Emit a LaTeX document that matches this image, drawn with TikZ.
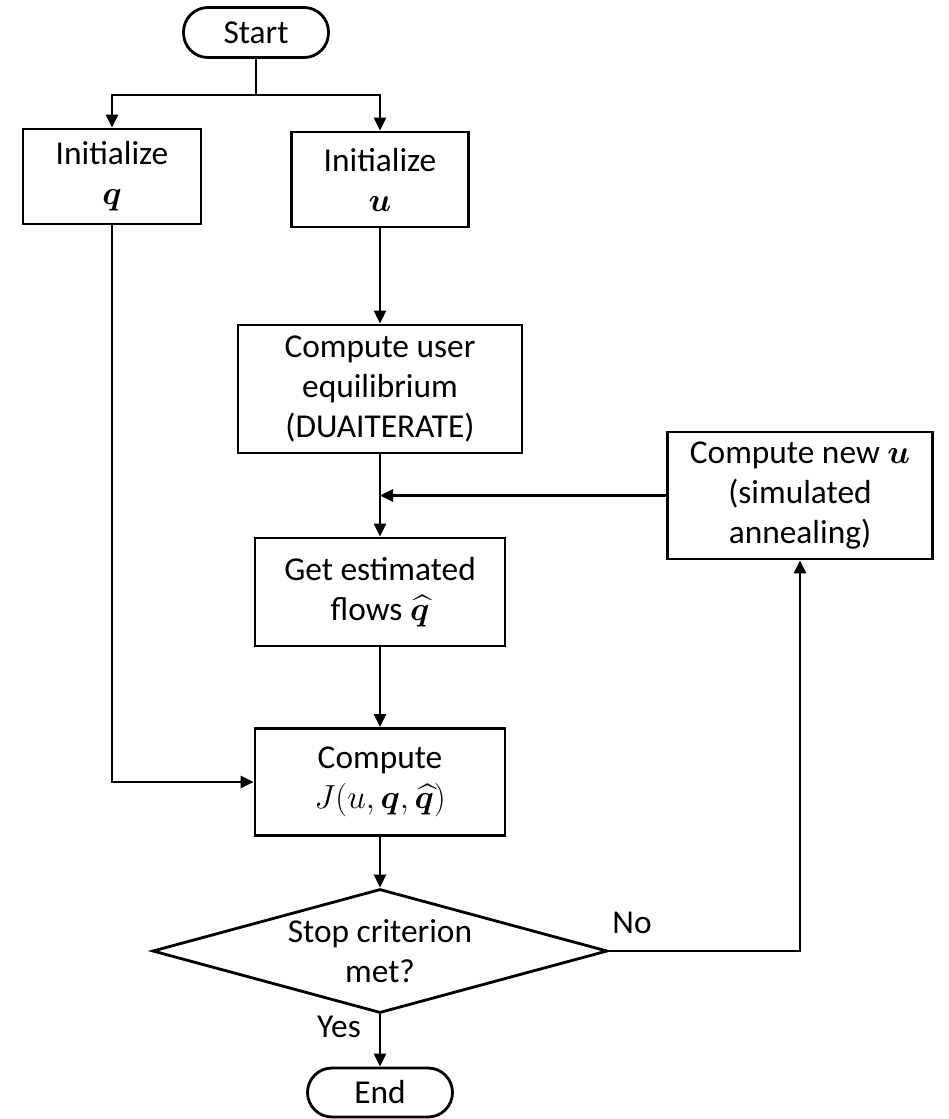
\documentclass[tikz,border=0pt]{standalone}
\usepackage{fix-cm}
\usepackage{amsmath,amssymb,bm}
\usepackage{fontspec}
\setmainfont{Carlito}
\usetikzlibrary{arrows.meta,shapes.geometric,positioning}

\tikzset{
  every node/.style={font=\fontsize{19}{22.7}\selectfont},
  box/.style={draw,line width=1.6pt,align=center,inner sep=0pt},
  term/.style={draw,line width=1.6pt,rounded corners=0.49cm,minimum width=2.9cm,minimum height=1cm,inner sep=0pt},
  decide/.style={draw,diamond,line width=1.6pt,inner sep=0pt,minimum width=9.1cm,minimum height=2.48cm},
  flow/.style={line width=1.6pt,-{Triangle[length=0.26cm,width=0.24cm]}},
  link/.style={line width=1.6pt},
}

\begin{document}
\begin{tikzpicture}
        \useasboundingbox (0,0) rectangle (18.96,-22.38);

        % nodes
        \node[term] (start) at (5.12,-0.65) {Start};
        \node[box,minimum width=3.56cm,minimum height=1.9cm] (initq) at (2.24,-3.53) {Initialize\\$\bm{q}$};
        \node[box,minimum width=3.54cm,minimum height=1.9cm] (initu) at (7.6,-3.59) {Initialize\\$\bm{u}$};
        \node[box,minimum width=5.68cm,minimum height=2.56cm] (equil) at (7.6,-7.78) {Compute user\\equilibrium\\(DUAITERATE)};
        \node[box,minimum width=5.0cm,minimum height=2.16cm] (est) at (7.6,-11.84) {Get estimated\\flows $\widehat{\bm{q}}$};
        \node[box,minimum width=5.0cm,minimum height=2.14cm] (cost) at (7.6,-15.64) {Compute\\$J(u,\bm{q},\widehat{\bm{q}})$};
        \node[decide,label={[align=center]center:Stop criterion\\met?}] (stop) at (7.6,-19.02) {};
        \node[term,minimum height=0.98cm] (end) at (7.6,-21.85) {End};
        \node[box,minimum width=5.3cm,minimum height=2.54cm] (newu) at (16.0,-9.91) {Compute new $\bm{u}$\\(simulated\\annealing)};

        \node (no) at (12.64,-18.46) {No};
        \node (yes) at (6.78,-20.54) {Yes};

        % connectors
        \draw[link] (start.south) -- (start.south |- 0,-1.9) coordinate (fork);
        \draw[flow] (fork) -| (initq.north);
        \draw[flow] (fork) -| (initu.north);
        \draw[flow] (initu) -- (equil);
        \draw[flow] (equil) -- (est);
        \draw[flow] (newu.west) -- (newu.west -| equil.south);
        \draw[flow] (est) -- (cost);
        \draw[flow] (initq.south) |- (cost.west);
        \draw[flow] (cost) -- (stop);
        \draw[flow] (stop.east) -| (newu.south);
        \draw[flow] (stop) -- (end);

\end{tikzpicture}
\end{document}
